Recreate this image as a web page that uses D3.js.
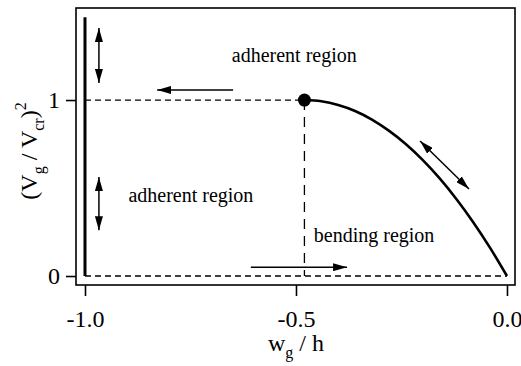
<!DOCTYPE html>
<html>
<head>
<meta charset="utf-8">
<script src="https://cdn.jsdelivr.net/npm/d3@7"></script>
<style>
body { margin: 0; background: #fff; }
text { font-family: "Liberation Serif", "DejaVu Serif", serif; fill: #000; }
</style>
</head>
<body>
<svg width="521" height="366"></svg>
<script>
// tick values
var xTicks = [-1.0, -0.5, 0.0];
var yTicks = [0, 1];

// bending curve (w_g/h , (Vg/Vcr)^2)
var curveX = [-0.48, -0.44, -0.40, -0.36, -0.32, -0.28, -0.24, -0.20, -0.16, -0.12, -0.08, -0.04, 0.0];
var curveY = [1.0, 0.993, 0.972, 0.938, 0.889, 0.826, 0.75, 0.66, 0.556, 0.438, 0.306, 0.16, 0.0];

var critX = -0.48;   // end point of the plateau
var wallX = -1.0;
var wallTop = 1.47;

// arrows in data units [x1, y1, x2, y2, double?]
var arrows = [
  [-0.649, 1.057, -0.829, 1.057, false],
  [-0.607, 0.05, -0.379, 0.05, false],
  [-0.967, 1.41, -0.967, 1.097, true],
  [-0.967, 0.5625, -0.967, 0.26, true],
  [-0.206, 0.767, -0.090, 0.494, true]
];

// region labels
var labels = [
  {text: "adherent region", x: -0.504, y: 1.216},
  {text: "adherent region", x: -0.749, y: 0.42},
  {text: "bending region", x: -0.315, y: 0.193}
];

var svg = d3.select("svg");
var mLeft = 76, mRight = 515, mTop = 8, mBottom = 285;

var x = d3.scaleLinear().domain([-1.0213, 0.019]).range([mLeft, mRight]);
var y = d3.scaleLinear().domain([-0.051, 1.523]).range([mBottom, mTop]);

var defs = svg.append("defs");
defs.append("marker")
    .attr("id", "head")
    .attr("viewBox", "0 0 14 8")
    .attr("refX", 14).attr("refY", 4)
    .attr("markerWidth", 14).attr("markerHeight", 8)
    .attr("markerUnits", "userSpaceOnUse")
    .attr("orient", "auto-start-reverse")
  .append("path").attr("d", "M0,0L14,4L0,8Z").attr("fill", "#000");

// dashed guides
svg.append("line")
    .attr("x1", x(wallX)).attr("x2", x(critX))
    .attr("y1", y(1)).attr("y2", y(1))
    .attr("stroke", "#000").attr("stroke-width", 1.3).attr("stroke-dasharray", "6,4");
svg.append("line")
    .attr("x1", x(wallX)).attr("x2", x(0))
    .attr("y1", y(0)).attr("y2", y(0))
    .attr("stroke", "#000").attr("stroke-width", 1.3).attr("stroke-dasharray", "6,4");
svg.append("line")
    .attr("x1", x(critX)).attr("x2", x(critX))
    .attr("y1", y(1)).attr("y2", y(0))
    .attr("stroke", "#000").attr("stroke-width", 1.3).attr("stroke-dasharray", "10,7");

// wall line at -1
svg.append("line")
    .attr("x1", x(wallX)).attr("x2", x(wallX))
    .attr("y1", y(0)).attr("y2", y(wallTop))
    .attr("stroke", "#000").attr("stroke-width", 3);

// curve
var pts = curveX.map(function(d, i) { return [d, curveY[i]]; });
svg.append("path")
    .datum(pts)
    .attr("fill", "none")
    .attr("stroke", "#000")
    .attr("stroke-width", 2.6)
    .attr("d", d3.line().x(function(d) { return x(d[0]); }).y(function(d) { return y(d[1]); }).curve(d3.curveMonotoneX));

svg.append("circle")
    .attr("cx", x(critX)).attr("cy", y(1)).attr("r", 6.5).attr("fill", "#000");

// arrows
svg.selectAll(".arrow")
    .data(arrows)
    .enter().append("line")
    .attr("class", "arrow")
    .attr("x1", function(d) { return x(d[0]); })
    .attr("y1", function(d) { return y(d[1]); })
    .attr("x2", function(d) { return x(d[2]); })
    .attr("y2", function(d) { return y(d[3]); })
    .attr("stroke", "#000").attr("stroke-width", 1.5)
    .attr("marker-end", "url(#head)")
    .attr("marker-start", function(d) { return d[4] ? "url(#head)" : null; });

svg.selectAll(".lbl")
    .data(labels)
    .enter().append("text")
    .attr("class", "lbl")
    .attr("x", function(d) { return x(d.x); })
    .attr("y", function(d) { return y(d.y); })
    .attr("text-anchor", "middle")
    .attr("font-size", 20)
    .text(function(d) { return d.text; });

// frame
svg.append("rect")
    .attr("x", mLeft).attr("y", mTop)
    .attr("width", mRight - mLeft).attr("height", mBottom - mTop)
    .attr("fill", "none").attr("stroke", "#000").attr("stroke-width", 1.6);

// axes
var xAxis = svg.append("g")
    .attr("transform", "translate(0," + mBottom + ")")
    .call(d3.axisBottom(x).tickValues(xTicks).tickSize(11).tickPadding(14).tickFormat(d3.format(".1f")));
var yAxis = svg.append("g")
    .attr("transform", "translate(" + mLeft + ",0)")
    .call(d3.axisLeft(y).tickValues(yTicks).tickSize(10).tickPadding(6).tickFormat(d3.format("d")));
[xAxis, yAxis].forEach(function(g) {
  g.select(".domain").remove();
  g.selectAll(".tick line").attr("stroke", "#000").attr("stroke-width", 1.6);
  g.selectAll(".tick text").attr("font-family", "Liberation Serif").attr("font-size", 24).attr("fill", "#000");
});
xAxis.selectAll(".tick text").text(function(d) { return d3.format(".1f")(d).replace("−", "-"); });

// axis titles
var xt = svg.append("text")
    .attr("x", x(-0.5)).attr("y", 351)
    .attr("text-anchor", "middle")
    .attr("font-size", 24);
xt.append("tspan").text("w");
xt.append("tspan").attr("font-size", 16).attr("dy", 7).text("g");
xt.append("tspan").attr("dy", -7).text(" / h");

var yt = svg.append("text")
    .attr("transform", "translate(37,151) rotate(-90)")
    .attr("text-anchor", "middle")
    .attr("font-size", 24);
yt.append("tspan").text("(V");
yt.append("tspan").attr("font-size", 16).attr("dy", 7).text("g");
yt.append("tspan").attr("dy", -7).text(" / V");
yt.append("tspan").attr("font-size", 16).attr("dy", 7).text("cr");
yt.append("tspan").attr("dy", -7).text(")");
yt.append("tspan").attr("font-size", 16).attr("dy", -11).text("2");
</script>
</body>
</html>
